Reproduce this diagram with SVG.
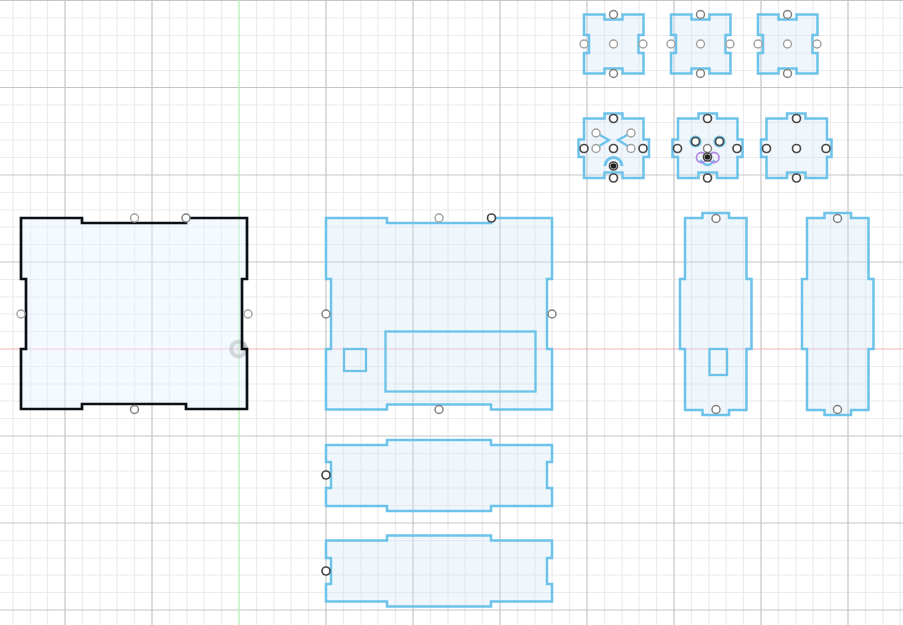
<svg xmlns="http://www.w3.org/2000/svg" width="903" height="625" viewBox="0 0 903 625">
<style>
.minor{fill:none;stroke:#ececec;stroke-width:1.200}
.major{fill:none;stroke:#c6c6c6;stroke-width:1.200}
.part{fill:#cfe7f5;fill-opacity:.32;stroke:#6cc2e9;stroke-width:2.500}
.sel{fill:#e6f4fe;fill-opacity:.45;stroke:#0a0f14;stroke-width:2.700}
.p{fill:#fff;stroke:#808080;stroke-width:1.500}
.d{fill:#fff;stroke:#484848;stroke-width:1.700}
.g{fill:#fff;stroke:#a0a0a0;stroke-width:1.400}
.h{fill:none;stroke:#6cc2e9;stroke-width:2.300}
</style>
<rect width="903" height="625" fill="#fff"/>
<g id="grid">
<path class="minor" d="M13 0V625M30.500 0V625M47.500 0V625M82.500 0V625M100 0V625M117 0V625M134.500 0V625M169.500 0V625M187 0V625M204 0V625M221.500 0V625M256.500 0V625M274 0V625M291 0V625M308.500 0V625M343.500 0V625M361 0V625M378 0V625M395.500 0V625M430.500 0V625M448 0V625M465 0V625M482.500 0V625M517.500 0V625M535 0V625M552 0V625M569.500 0V625M604.500 0V625M622 0V625M639 0V625M656.500 0V625M691.500 0V625M709 0V625M726 0V625M743.500 0V625M778.500 0V625M796 0V625M813 0V625M830.500 0V625M865.500 0V625M883 0V625M900 0V625"/>
<path class="minor" d="M0 18H903M0 35.500H903M0 53H903M0 70.500H903M0 105H903M0 122.500H903M0 140H903M0 157.500H903M0 192.500H903M0 210H903M0 227H903M0 244.500H903M0 279.500H903M0 297H903M0 314H903M0 331.500H903M0 366.500H903M0 384H903M0 401H903M0 418.500H903M0 453.500H903M0 471H903M0 488H903M0 505.500H903M0 540.500H903M0 558H903M0 575H903M0 592.500H903"/>
<path class="major" d="M65 0V625M152 0V625M326 0V625M413 0V625M500 0V625M587 0V625M674 0V625M761 0V625M848 0V625M0 .5H903M0 87.500H903M0 175H903M0 262H903M0 436H903M0 523H903M0 610H903"/>
<path d="M239 0V625" fill="none" stroke="#aeeeae" stroke-width="1.200"/>
<path d="M0 349H903" fill="none" stroke="#f8b4b4" stroke-width="1.200"/>
</g>
<g id="part-selected">
<circle cx="238.500" cy="349" r="7.500" fill="#8a8a8a" fill-opacity=".15" stroke="#8a8a8a" stroke-opacity=".5" stroke-width="4"/>
<path class="sel" d="M21 218H82V223H186V218H247V279H242V349H247V409H186V404H82V409H21V349H26V279H21Z"/>
<circle class="g" cx="134.500" cy="218" r="4"/><circle class="p" cx="186" cy="218" r="4"/><circle class="g" cx="21" cy="314" r="4"/><circle class="g" cx="248" cy="314" r="4"/><circle class="p" cx="134.500" cy="409.500" r="4"/>
</g>
<g id="part-front">
<path class="part" d="M326 218H387V223H491V218H552V279H547V349H552V409.500H491V404.500H387V409.500H326V349H331V279H326Z"/>
<rect class="h" x="385.500" y="331.500" width="150" height="60"/><rect class="h" x="344" y="349" width="22" height="22"/>
<circle class="g" cx="439" cy="218" r="4"/><circle class="d" cx="491.500" cy="218" r="4"/><circle class="p" cx="326" cy="314" r="4"/><circle class="p" cx="552" cy="314" r="4"/><circle class="p" cx="439" cy="409.500" r="4"/>
</g>
<g id="strip-1">
<path class="part" d="M326 445H387V440H491V445H552V462H547V488H552V506H491V511H387V506H326V488H331V462H326Z"/>
<circle class="d" cx="326" cy="475" r="4"/>
</g>
<g id="strip-2">
<path class="part" d="M326 540.500H387V535.500H491V540.500H552V558H547V584H552V601.500H491V606.500H387V601.500H326V584H331V558H326Z"/>
<circle class="d" cx="326" cy="571" r="4"/>
</g>
<g id="side-1">
<path class="part" d="M685 218H702.500V213H729V218H746.500V279H751.500V349H746.500V410H729V415H702.500V410H685V349H680V279H685Z"/>
<rect class="h" x="709.500" y="349" width="17.500" height="26"/>
<circle class="p" cx="716" cy="218.500" r="4"/><circle class="p" cx="716" cy="409.500" r="4"/>
</g>
<g id="side-2">
<path class="part" d="M807 218H824.500V213H851V218H868.500V279H873.500V349H868.500V410H851V415H824.500V410H807V349H802V279H807Z"/>
<circle class="p" cx="837.500" cy="218.500" r="4"/><circle class="p" cx="837.500" cy="409.500" r="4"/>
</g>
<g id="small-a">
<path class="part" d="M584 14.500H604.500V19.500H622.500V14.500H643.500V35H638.500V53H643.500V73.500H622.500V68.500H604.500V73.500H584V53H589V35H584Z"/>
<circle class="p" cx="613.500" cy="14.500" r="4"/><circle class="g" cx="584" cy="44" r="4"/><circle class="g" cx="613.500" cy="44" r="4"/><circle class="g" cx="643" cy="44" r="4"/><circle class="p" cx="613.500" cy="73.500" r="4"/>
</g>
<g id="small-b">
<path class="part" d="M671 14.500H691.500V19.500H709.500V14.500H730.500V35H725.500V53H730.500V73.500H709.500V68.500H691.500V73.500H671V53H676V35H671Z"/>
<circle class="p" cx="700.500" cy="14.500" r="4"/><circle class="g" cx="671" cy="44" r="4"/><circle class="g" cx="700.500" cy="44" r="4"/><circle class="g" cx="730" cy="44" r="4"/><circle class="p" cx="700.500" cy="73.500" r="4"/>
</g>
<g id="small-c">
<path class="part" d="M758 14.500H778.500V19.500H796.500V14.500H817.500V35H812.500V53H817.500V73.500H796.500V68.500H778.500V73.500H758V53H763V35H758Z"/>
<circle class="p" cx="787.500" cy="14.500" r="4"/><circle class="g" cx="758" cy="44" r="4"/><circle class="g" cx="787.500" cy="44" r="4"/><circle class="g" cx="817" cy="44" r="4"/><circle class="p" cx="787.500" cy="73.500" r="4"/>
</g>
<g id="small-d">
<path class="part" d="M584 118.500H604.500V113.500H622.500V118.500H643.500V139.500H649V157H643.500V178H622.500V172.500H604.500V178H584V157H578.500V139.500H584Z"/>
<path class="h" d="M596 133L609 140L596 148M631 133L618 140L631 148"/>
<path d="M605 166A8.500 8.500 0 0 1 622 166" fill="none" stroke="#6cc2e9" stroke-width="3"/>
<circle class="g" cx="596" cy="133" r="4"/><circle class="g" cx="631" cy="133" r="4"/><circle class="g" cx="596" cy="148.500" r="4"/><circle class="g" cx="631" cy="148.500" r="4"/>
<circle class="d" cx="613.500" cy="118.500" r="4"/><circle class="d" cx="584" cy="148.500" r="4"/><circle class="d" cx="613.500" cy="148.500" r="4"/><circle class="d" cx="643" cy="148.500" r="4"/><circle class="d" cx="613.500" cy="178" r="4"/>
<circle class="d" cx="613.500" cy="166" r="4"/><circle cx="613.500" cy="166" r="2.800" fill="#222"/>
</g>
<g id="small-e">
<path class="part" d="M678 118.500H698.500V113.500H717V118.500H737.500V139.500H742.500V157H737.500V178H717V172.500H698.500V178H678V157H672.500V139.500H678Z"/>
<path class="h" d="M700.500 160Q707.500 170 714.500 160"/>
<circle cx="701.500" cy="157.500" r="5" fill="none" stroke="#b48be8" stroke-width="1.800"/><circle cx="714" cy="157.500" r="5" fill="none" stroke="#b48be8" stroke-width="1.800"/>
<circle cx="695.500" cy="141.500" r="5" fill="none" stroke="#6cc2e9" stroke-width="2.200"/><circle cx="719.500" cy="141.500" r="5" fill="none" stroke="#6cc2e9" stroke-width="2.200"/>
<circle class="d" cx="695.500" cy="141.500" r="4"/><circle class="d" cx="719.500" cy="141.500" r="4"/>
<circle class="d" cx="707.500" cy="118.500" r="4"/><circle class="d" cx="677.500" cy="148.500" r="4"/><circle class="p" cx="707.500" cy="148.500" r="4"/><circle class="d" cx="737" cy="148.500" r="4"/><circle class="d" cx="707.500" cy="178" r="4"/>
<circle class="d" cx="707.500" cy="157" r="4"/><circle cx="707.500" cy="157" r="2.800" fill="#222"/>
</g>
<g id="small-f">
<path class="part" d="M766.500 118.500H787V113.500H805.500V118.500H827V139.500H831.500V157H827V178H805.500V172.500H787V178H766.500V157H761V139.500H766.500Z"/>
<circle class="d" cx="796.500" cy="118.500" r="4"/><circle class="d" cx="766.500" cy="148.500" r="4"/><circle class="d" cx="796.500" cy="148.500" r="4"/><circle class="d" cx="826" cy="148.500" r="4"/><circle class="d" cx="796.500" cy="178" r="4"/>
</g>
<g id="connectors"/>
</svg>
